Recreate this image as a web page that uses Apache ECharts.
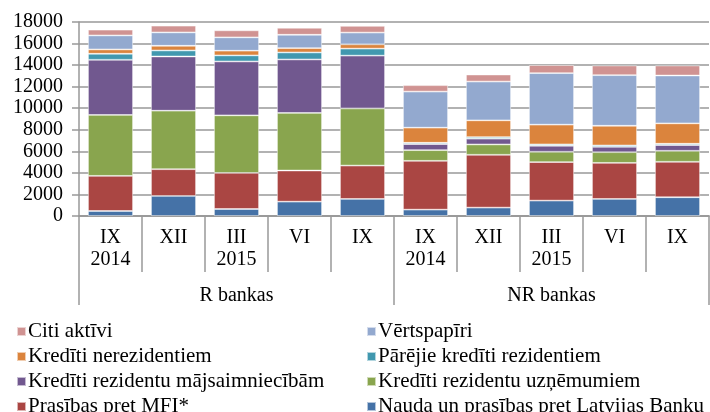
<!DOCTYPE html>
<html>
<head>
<meta charset="utf-8">
<script src="https://cdn.jsdelivr.net/npm/echarts@6/dist/echarts.min.js"></script>
<style>
  html, body { margin: 0; padding: 0; background: #fff; }
  #main { width: 710px; height: 412px; }
</style>
</head>
<body>
<div id="main"></div>
<script>
// kategorijas (mēneši / gadi) un grupas
var periods = ['IX\n2014', 'XII', 'III\n2015', 'VI', 'IX', 'IX\n2014', 'XII', 'III\n2015', 'VI', 'IX'];
var groups = ['R bankas', 'NR bankas'];

// dati no apakšas uz augšu
var nauda = [465, 1860, 650, 1330, 1580, 590, 780, 1430, 1580, 1740];
var prasibasMFI = [3260, 2480, 3350, 2890, 3100, 4530, 4900, 3570, 3350, 3290];
var uznemumiem = [5650, 5430, 5340, 5340, 5300, 990, 960, 960, 990, 1020];
var majsaimniecibam = [5120, 5030, 5000, 4965, 4900, 560, 530, 560, 500, 530];
var parejie = [560, 560, 560, 650, 650, 125, 155, 125, 125, 125];
var nerezidentiem = [400, 435, 435, 400, 400, 1400, 1550, 1830, 1830, 1890];
var vertspapiri = [1300, 1240, 1240, 1240, 1090, 3350, 3600, 4780, 4690, 4440];
var citi = [530, 620, 650, 650, 620, 590, 650, 745, 900, 930];

var yTicks = { min: 0, max: 18000, interval: 2000 };

var legendLeft = ['Citi aktīvi', 'Kredīti nerezidentiem', 'Kredīti rezidentu mājsaimniecībām', 'Prasības pret MFI*'];
var legendRight = ['Vērtspapīri', 'Pārējie kredīti rezidentiem', 'Kredīti rezidentu uzņēmumiem', 'Nauda un prasības pret Latvijas Banku'];

var font = "'Liberation Serif', 'Times New Roman', serif";
var gridGray = '#999';

function bar(name, data, color) {
  return {
    name: name,
    type: 'bar',
    stack: 'total',
    data: data,
    barWidth: 45,
    itemStyle: { color: color, borderColor: 'rgba(255,255,255,0.6)', borderWidth: 0.8 }
  };
}

function legendCol(names, left) {
  return {
    orient: 'vertical',
    left: left, top: 321,
    height: 110,
    padding: 0,
    itemWidth: 9, itemHeight: 9, itemGap: 4,
    icon: 'rect',
    textStyle: { fontFamily: font, fontSize: 21, lineHeight: 21, color: '#000', padding: [0, 0, 0, -3] },
    data: names
  };
}

var myChart = echarts.init(document.getElementById('main'));
var option = {
  animation: false,
  textStyle: { fontFamily: font },
  grid: { left: 79, right: 1, top: 22, bottom: 196 },
  legend: [legendCol(legendLeft, 16), legendCol(legendRight, 366)],
  xAxis: [
    {
      type: 'category',
      data: periods,
      position: 'bottom',
      axisLine: { lineStyle: { color: gridGray, width: 1.5 } },
      axisTick: { show: true, interval: 0, length: 56, lineStyle: { color: gridGray, width: 1.5 } },
      axisLabel: { interval: 0, margin: 11, fontSize: 20, lineHeight: 22, color: '#000', fontFamily: font }
    },
    {
      type: 'category',
      data: groups,
      position: 'bottom',
      axisLine: { lineStyle: { color: gridGray, width: 1.5 } },
      axisTick: { show: true, interval: 0, length: 89, lineStyle: { color: gridGray, width: 1.5 } },
      axisLabel: { interval: 0, margin: 70, fontSize: 20, color: '#000', fontFamily: font }
    }
  ],
  yAxis: {
    type: 'value',
    min: yTicks.min, max: yTicks.max, interval: yTicks.interval,
    axisLine: { show: true, lineStyle: { color: gridGray, width: 1.5 } },
    axisTick: { show: true, inside: false, length: 7, lineStyle: { color: gridGray, width: 1.5 } },
    axisLabel: {
      margin: 16, fontSize: 20, color: '#000', fontFamily: font,
      formatter: function (v) { return String(v); }
    },
    splitLine: { lineStyle: { color: gridGray, width: 1.5 } }
  },
  series: [
    bar('Nauda un prasības pret Latvijas Banku', nauda, '#4572A7'),
    bar('Prasības pret MFI*', prasibasMFI, '#AA4643'),
    bar('Kredīti rezidentu uzņēmumiem', uznemumiem, '#89A54E'),
    bar('Kredīti rezidentu mājsaimniecībām', majsaimniecibam, '#71588F'),
    bar('Pārējie kredīti rezidentiem', parejie, '#4198AF'),
    bar('Kredīti nerezidentiem', nerezidentiem, '#DB843D'),
    bar('Vērtspapīri', vertspapiri, '#93A9CF'),
    bar('Citi aktīvi', citi, '#D09392')
  ]
};
myChart.setOption(option);
</script>
</body>
</html>
